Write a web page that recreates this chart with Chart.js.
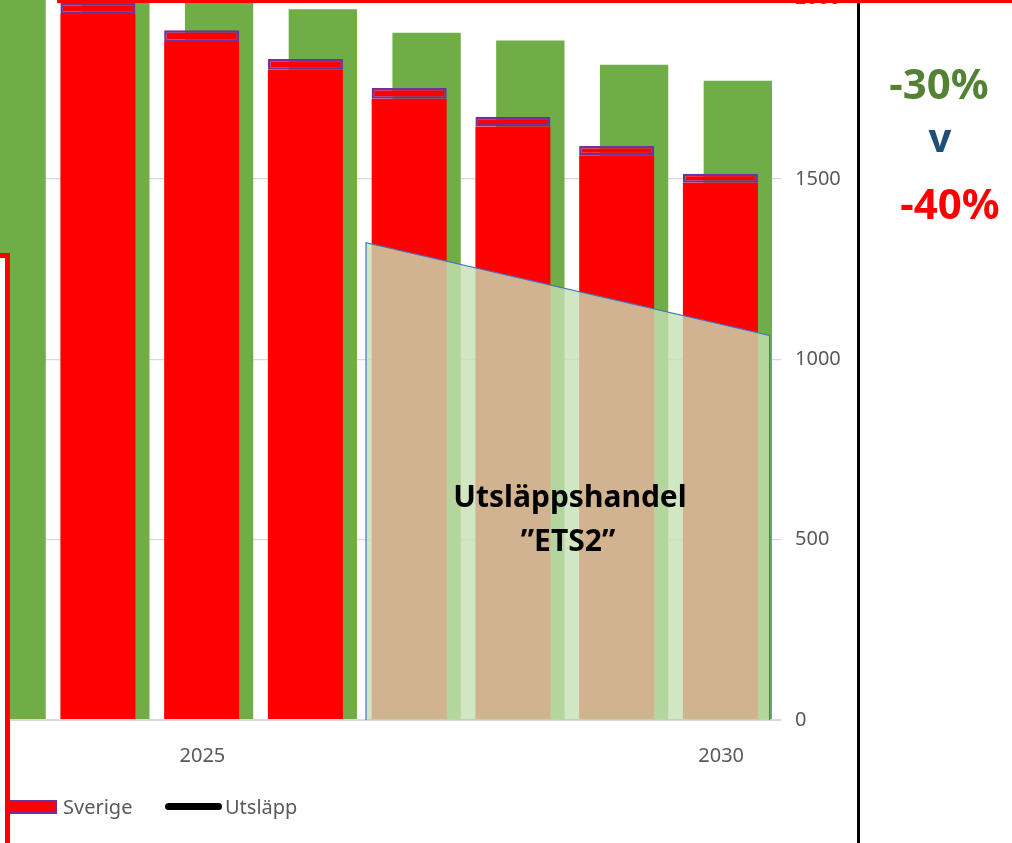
<!DOCTYPE html>
<html lang="sv">
<head>
<meta charset="utf-8">
<title>Utsläpp och ETS2</title>
<script src="https://cdn.jsdelivr.net/npm/chart.js@4.4.1/dist/chart.umd.min.js"></script>
<style>
  html, body {
    margin: 0;
    padding: 0;
    width: 1012px;
    height: 843px;
    overflow: hidden;
    background: #fff;
    font-family: 'Noto Sans', sans-serif;
  }
  .stage { position: relative; width: 1012px; height: 843px; overflow: hidden; }
  #chartWrap { position: absolute; left: -100px; top: -208px; width: 1112px; height: 1051px; }
  .overlay { position: absolute; white-space: nowrap; line-height: 1; }
  .ets2 { font-weight: 700; font-size: 30px; color: #000; transform: translateX(-50%); }
  .pct { font-weight: 700; font-size: 42px; transform: translateX(-50%); }
  .legend-text { font-size: 20px; color: #595959; }
  .frame-top { position: absolute; left: 57px; top: 0; width: 955px; height: 2.5px; background: #ff0000; }
  .frame-right { position: absolute; left: 857px; top: 0; width: 2.5px; height: 843px; background: #000; }
  .left-box {
    position: absolute; left: -30px; top: 253px; width: 40px; height: 700px;
    box-sizing: border-box; border: 5px solid #ff0000; background: transparent;
  }
  .left-box-fill { position: absolute; left: 0; top: 258px; width: 5px; height: 600px; background: #fff; }
  .swatch-sverige {
    position: absolute; left: 8px; top: 800px; width: 49px; height: 14px;
    box-sizing: border-box; background: #ff0000; border: 2px solid #7030a0;
  }
  .swatch-utslapp { position: absolute; left: 165px; top: 803px; width: 57px; height: 7px; border-radius: 4px; background: #000; }
</style>
</head>
<body>
<div class="stage">
  <div id="chartWrap"><canvas id="emissionsChart" width="1112" height="1051"></canvas></div>

  <div class="overlay ets2" style="left:570px; top:481px;">Utsläppshandel</div>
  <div class="overlay ets2" style="left:568px; top:525px;">”ETS2”</div>

  <div class="overlay pct" style="left:939px; top:62px; color:#548235;">-30%</div>
  <div class="overlay pct" style="left:940px; top:117px; font-size:40px; color:#1f4e79;">v</div>
  <div class="overlay pct" style="left:950px; top:182px; color:#ff0000;">-40%</div>

  <div class="swatch-sverige"></div>
  <div class="overlay legend-text" style="left:63px; top:797px;">Sverige</div>
  <div class="swatch-utslapp"></div>
  <div class="overlay legend-text" style="left:225px; top:797px;">Utsläpp</div>

  <div class="left-box-fill"></div>
  <div class="left-box"></div>
  <div class="frame-right"></div>
  <div class="frame-top"></div>
</div>

<script>
const years = [2023, 2024, 2025, 2026, 2027, 2028, 2029, 2030];

// red bars: rest of the bar below the Sverige slice
const redBase = [null, 1957, 1879, 1802, 1722, 1645, 1565, 1489];
const sverige = [null, 30, 33, 30, 30, 27, 26, 25];
const greenTarget = [2090, 2010, 1987, 1970, 1905, 1883, 1816, 1772];

// ETS2 cap, start of 2027 to end of 2030
const ets2Years = [2026.5, 2030.39];
const ets2Cap = [1323, 1066];

const yTicks = [0, 500, 1000, 1500, 2000, 2500];

const fontFamily = "'Noto Sans', sans-serif";
const axisColor = '#595959';
const gridColor = '#d9d9d9';
const ets2Border = '#4472c4';

const ets2Polygon = [
  { x: ets2Years[0], y: 0 },
  { x: ets2Years[0], y: ets2Cap[0] },
  { x: ets2Years[1], y: ets2Cap[1] },
  { x: ets2Years[1], y: 0 },
];
const ets2Bottom = [
  { x: ets2Years[0], y: 0 },
  { x: ets2Years[1], y: 0 },
];

const categoryPercentage = 0.6712;

new Chart(document.getElementById('emissionsChart'), {
  data: {
    labels: years.map(String),
    datasets: [
      {
        type: 'line',
        label: 'ETS2',
        data: ets2Polygon,
        xAxisID: 'xa',
        yAxisID: 'y',
        stack: 'ets2',
        order: 0,
        borderColor: ets2Border,
        borderWidth: 1.2,
        backgroundColor: 'rgba(197, 224, 180, 0.8)',
        fill: 'origin',
        pointRadius: 0,
        tension: 0,
      },
      {
        type: 'line',
        label: 'ETS2 bas',
        data: ets2Bottom,
        xAxisID: 'xa',
        yAxisID: 'y',
        stack: 'ets2bas',
        order: 0,
        borderColor: ets2Border,
        borderWidth: 1.2,
        fill: false,
        pointRadius: 0,
      },
      {
        type: 'bar',
        label: 'EU',
        data: redBase,
        stack: 'eu',
        order: 1,
        backgroundColor: '#ff0000',
        borderWidth: 0,
        categoryPercentage,
        barPercentage: 4.31,
      },
      {
        type: 'bar',
        label: 'Sverige',
        data: sverige,
        stack: 'eu',
        order: 1,
        backgroundColor: '#ff0000',
        borderColor: '#7030a0',
        borderWidth: 2.5,
        borderSkipped: false,
        categoryPercentage,
        barPercentage: 4.31,
      },
      {
        type: 'bar',
        label: 'Mål',
        data: greenTarget,
        stack: 'goal',
        order: 2,
        backgroundColor: '#70ad47',
        borderWidth: 0,
        categoryPercentage,
        barPercentage: 3.925,
      },
    ],
  },
  options: {
    responsive: false,
    maintainAspectRatio: false,
    animation: false,
    layout: {
      padding: { left: 51, top: 18.3, right: 0, bottom: 0 },
    },
    plugins: {
      legend: { display: false },
      tooltip: { enabled: false },
    },
    scales: {
      x: {
        type: 'category',
        stacked: true,
        offset: true,
        grid: { display: false, drawTicks: false },
        border: { display: false },
        ticks: {
          autoSkip: false,
          maxRotation: 0,
          padding: 24,
          labelOffset: -8,
          color: axisColor,
          font: { family: fontFamily, size: 20 },
          callback(value) {
            const year = years[value];
            return year % 5 === 0 ? String(year) : '';
          },
        },
        afterFit(scale) {
          scale.height = 123;
        },
      },
      xa: {
        type: 'linear',
        display: false,
        min: years[0] - 0.5,
        max: years[years.length - 1] + 0.5,
      },
      y: {
        position: 'right',
        stacked: true,
        min: yTicks[0],
        max: yTicks[yTicks.length - 1],
        afterBuildTicks(scale) {
          scale.ticks = yTicks.map((value) => ({ value }));
        },
        grid: {
          color: gridColor,
          lineWidth: (ctx) => (ctx.tick && ctx.tick.value === 0 ? 2 : 1.3),
          drawTicks: false,
        },
        border: { display: false },
        ticks: {
          padding: 14,
          color: axisColor,
          font: { family: fontFamily, size: 20 },
          callback(value) {
            return String(value);
          },
        },
        afterFit(scale) {
          scale.width = 231;
        },
      },
    },
  },
});
</script>
</body>
</html>
